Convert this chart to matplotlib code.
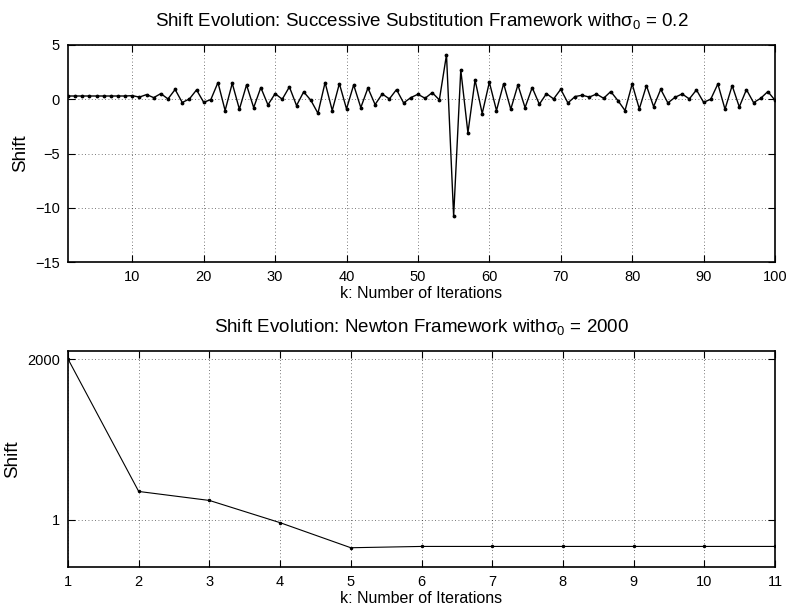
import matplotlib
matplotlib.use("Agg")
from matplotlib import pyplot as plt
from matplotlib.ticker import FixedLocator, FixedFormatter, NullLocator

# successive substitution shifts, k = 1..100
ss_k = list(range(1, 101))
ss_shift = [
    0.30, 0.30, 0.30, 0.30, 0.30, 0.30, 0.30, 0.30, 0.30, 0.33,
    0.20, 0.43, 0.15, 0.52, 0.03, 0.90, -0.30, 0.03, 0.86, -0.28,
    -0.03, 1.54, -1.04, 1.47, -0.92, 1.32, -0.77, 1.08, -0.52, 0.52,
    0.00, 1.14, -0.58, 0.68, -0.09, -1.29, 1.54, -1.04, 1.44, -0.89,
    1.32, -0.77, 1.04, -0.49, 0.49, 0.03, 0.89, -0.34, 0.15, 0.46,
    0.09, 0.61, -0.06, 4.10, -10.78, 2.70, -3.10, 1.78, -1.32, 1.57,
    -1.04, 1.44, -0.92, 1.32, -0.77, 1.08, -0.46, 0.52, 0.03, 0.92,
    -0.34, 0.25, 0.37, 0.20, 0.48, 0.09, 0.71, -0.12, -1.04, 1.41,
    -0.89, 1.26, -0.68, 0.92, -0.34, 0.18, 0.49, 0.03, 0.86, -0.28,
    0.00, 1.41, -0.92, 1.26, -0.71, 0.89, -0.31, 0.09, 0.71, -0.09,
]

# newton shifts, k = 1..11
nt_k = list(range(1, 12))
nt_shift = [2000, 3.81, 2.49, 0.87, 0.266, 0.283, 0.283, 0.283, 0.283, 0.283, 0.283]

plt.rcParams['font.family'] = ['Liberation Sans', 'DejaVu Sans']
plt.rcParams['mathtext.fontset'] = 'custom'
plt.rcParams['mathtext.rm'] = 'Liberation Sans'
plt.rcParams['mathtext.it'] = 'Liberation Sans'


def _style_axes(ax):
    """MATLAB-like box, inward ticks and dotted grid"""
    for spine in ax.spines.values():
        spine.set_linewidth(1.2)
    ax.tick_params(direction='in', length=5, width=0.8, top=True, right=True,
                   labelsize=10.5, pad=6)
    ax.grid(True, linestyle=(0, (1, 3)), color='k', linewidth=0.6, alpha=0.7)
    ax.set_axisbelow(True)


fig = plt.figure(figsize=(7.88, 6.05), dpi=100)

ax1 = fig.add_axes([68 / 788, 1 - 262 / 605, 707 / 788, 217 / 605])
ax1.plot(ss_k, ss_shift, color='k', linewidth=1.0, marker='.', markersize=3.5)
ax1.set_xlim(1, 100)
ax1.set_ylim(-15, 5)
ax1.set_xticks(range(10, 101, 10))
ax1.set_yticks(range(-15, 6, 5))
ax1.set_yticklabels(['\u221215', '\u221210', '\u22125', '0', '5'])
ax1.set_xlabel('k: Number of Iterations', fontsize=11.5, labelpad=1)
ax1.set_ylabel('Shift', fontsize=13.5, labelpad=4)
ax1.set_title(r'Shift Evolution: Successive Substitution Framework with$\sigma_0$ = 0.2',
              fontsize=13.5, pad=14)
_style_axes(ax1)

ax2 = fig.add_axes([68 / 788, 1 - 567 / 605, 707 / 788, 216 / 605])
ax2.plot(nt_k, nt_shift, color='k', linewidth=0.8, marker='.', markersize=3)
ax2.set_yscale('log')
ax2.set_xlim(1, 11)
ax2.set_ylim(0.107, 2920)
ax2.set_xticks(nt_k)
ax2.yaxis.set_major_locator(FixedLocator([1, 2000]))
ax2.yaxis.set_major_formatter(FixedFormatter(['1', '2000']))
ax2.yaxis.set_minor_locator(NullLocator())
ax2.set_xlabel('k: Number of Iterations', fontsize=11.5, labelpad=1)
ax2.set_ylabel('Shift', fontsize=13.5, labelpad=4)
ax2.set_title(r'Shift Evolution: Newton Framework with$\sigma_0$ = 2000',
              fontsize=13.5, pad=14)
_style_axes(ax2)

fig.savefig('out.png', dpi=100)
